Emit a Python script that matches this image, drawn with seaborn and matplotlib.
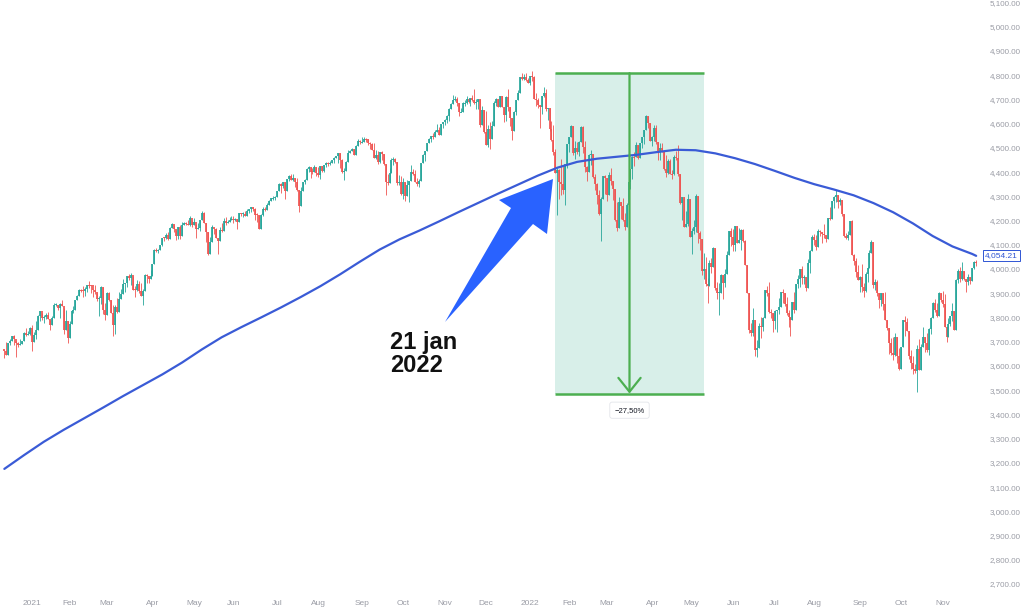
import numpy as np
import pandas as pd
import matplotlib
matplotlib.use("Agg")
import matplotlib.pyplot as plt
from matplotlib.patches import Rectangle, Polygon
import seaborn as sns

sns.set_theme(style="white")
plt.rcParams["font.family"] = ["Liberation Sans", "DejaVu Sans"]

# NYSE holidays inside the window
holidays = ["2020-12-25", "2021-01-01", "2021-01-18", "2021-02-15", "2021-04-02",
            "2021-05-31", "2021-07-05", "2021-09-06", "2021-11-25", "2021-12-24",
            "2022-01-17", "2022-02-21", "2022-04-15", "2022-05-30", "2022-06-20",
            "2022-07-04", "2022-09-05", "2022-11-24"]

prev_close = 3668  # close of 2020-12-10, opens the first candle

closes = [
    3663, 3647, 3695, 3702, 3722, 3709, 3695, 3687, 3690, 3703, 3735, 3727, 3732, 3756,
    3700, 3726, 3748, 3804, 3825, 3799, 3801, 3810, 3795, 3768, 3798, 3852, 3853, 3841, 3855, 3849, 3750, 3787, 3714,
    3774, 3826, 3830, 3872, 3887, 3915, 3911, 3910, 3917, 3934, 3933, 3932, 3914, 3906, 3877, 3881, 3925, 3829, 3811,
    3901, 3870, 3820, 3768, 3842, 3821, 3875, 3898, 3939, 3943, 3969, 3962, 3974, 3915, 3913, 3940, 3910, 3889, 3909, 3974, 3971, 3959, 3973,
    4020, 4077, 4074, 4080, 4097, 4129, 4128, 4142, 4125, 4170, 4185, 4163, 4135, 4173, 4135, 4180, 4188, 4187, 4183, 4211, 4181,
    4192, 4165, 4168, 4202, 4233, 4189, 4152, 4063, 4113, 4174, 4164, 4128, 4116, 4160, 4156, 4198, 4188, 4195, 4201, 4204,
    4202, 4208, 4192, 4230, 4227, 4228, 4220, 4239, 4247, 4255, 4247, 4224, 4222, 4166, 4224, 4246, 4242, 4266, 4281, 4291, 4292, 4298,
    4320, 4352, 4344, 4358, 4320, 4370, 4385, 4369, 4374, 4360, 4327, 4259, 4323, 4359, 4368, 4412, 4422, 4402, 4401, 4419, 4395,
    4387, 4423, 4403, 4430, 4437, 4433, 4436, 4448, 4460, 4468, 4480, 4449, 4400, 4406, 4442, 4480, 4486, 4497, 4470, 4509, 4529, 4523,
    4524, 4537, 4535, 4520, 4514, 4493, 4459, 4469, 4443, 4481, 4474, 4433, 4358, 4354, 4396, 4449, 4455, 4443, 4353, 4360, 4308,
    4357, 4300, 4346, 4363, 4399, 4391, 4361, 4351, 4364, 4438, 4471, 4486, 4520, 4537, 4549, 4545, 4567, 4575, 4551, 4597, 4605,
    4614, 4631, 4660, 4680, 4697, 4702, 4685, 4646, 4649, 4683, 4683, 4701, 4689, 4704, 4698, 4683, 4691, 4701, 4595, 4655, 4567,
    4513, 4577, 4538, 4592, 4686, 4701, 4668, 4712, 4669, 4635, 4710, 4669, 4621, 4568, 4649, 4697, 4726, 4791, 4786, 4793, 4778, 4766,
    4797, 4794, 4701, 4696, 4677, 4670, 4713, 4726, 4659, 4663, 4577, 4533, 4483, 4398, 4410, 4357, 4350, 4327, 4432, 4516,
    4546, 4589, 4477, 4501, 4484, 4522, 4587, 4504, 4419, 4402, 4472, 4475, 4380, 4349, 4305, 4226, 4288, 4385, 4374,
    4306, 4387, 4363, 4329, 4201, 4171, 4278, 4260, 4204, 4173, 4262, 4358, 4412, 4463, 4461, 4512, 4456, 4520, 4543, 4575, 4632, 4602, 4530,
    4546, 4583, 4525, 4481, 4500, 4488, 4413, 4397, 4447, 4392, 4391, 4463, 4460, 4394, 4272, 4297, 4175, 4184, 4288, 4132,
    4155, 4175, 4300, 4147, 4123, 3991, 4001, 3936, 3930, 4024, 4008, 4088, 3923, 3901, 3901, 3974, 3941, 3979, 4058, 4158, 4132,
    4101, 4177, 4109, 4121, 4161, 4116, 4018, 3901, 3750, 3735, 3790, 3667, 3675, 3765, 3760, 3796, 3912, 3901, 3822, 3819, 3785,
    3825, 3831, 3845, 3903, 3899, 3855, 3819, 3802, 3790, 3863, 3831, 3937, 3960, 3999, 3962, 3967, 3921, 4024, 4073, 4130,
    4119, 4091, 4155, 4152, 4145, 4140, 4122, 4210, 4207, 4280, 4297, 4305, 4275, 4284, 4228, 4138, 4128, 4141, 4199, 4058, 4031, 3986, 3955,
    3967, 3924, 3908, 3980, 4006, 4067, 4110, 3932, 3946, 3901, 3873, 3900, 3856, 3790, 3758, 3693, 3655, 3647, 3719, 3640, 3586,
    3678, 3791, 3783, 3745, 3640, 3612, 3589, 3577, 3669, 3583, 3677, 3720, 3695, 3666, 3752, 3797, 3859, 3830, 3807, 3901, 3872,
    3856, 3760, 3720, 3771, 3807, 3828, 3749, 3956, 3993, 3957, 3992, 3959, 3947, 3965, 3950, 4003, 4027, 4026,
]

highs = [
    3666, 3697, 3695, 3711, 3725, 3726, 3702, 3698, 3712, 3703, 3740, 3756, 3744, 3760,
    3770, 3738, 3784, 3811, 3827, 3817, 3810, 3820, 3823, 3788, 3804, 3859, 3861, 3852, 3859, 3870, 3837, 3831, 3784,
    3784, 3831, 3847, 3872, 3894, 3916, 3918, 3931, 3925, 3934, 3951, 3933, 3916, 3932, 3902, 3889, 3928, 3925, 3861,
    3903, 3907, 3874, 3853, 3851, 3882, 3903, 3918, 3960, 3944, 3970, 3981, 3983, 3970, 3930, 3955, 3949, 3942, 3919, 3978, 3981, 3968, 3994,
    4021, 4083, 4087, 4083, 4099, 4129, 4131, 4148, 4151, 4173, 4191, 4180, 4159, 4175, 4180, 4194, 4194, 4193, 4201, 4218, 4199,
    4209, 4187, 4191, 4202, 4238, 4236, 4190, 4152, 4131, 4183, 4171, 4170, 4128, 4172, 4188, 4209, 4213, 4202, 4213, 4218,
    4220, 4212, 4208, 4233, 4232, 4236, 4238, 4249, 4249, 4255, 4257, 4252, 4233, 4222, 4226, 4256, 4256, 4271, 4286, 4293, 4300, 4300,
    4321, 4355, 4356, 4361, 4358, 4372, 4386, 4393, 4394, 4375, 4375, 4327, 4337, 4359, 4370, 4415, 4423, 4422, 4416, 4430, 4419,
    4422, 4423, 4423, 4430, 4441, 4440, 4445, 4449, 4461, 4468, 4480, 4480, 4454, 4418, 4444, 4489, 4493, 4501, 4497, 4513, 4538, 4532,
    4546, 4545, 4541, 4535, 4522, 4521, 4521, 4492, 4485, 4482, 4486, 4474, 4433, 4394, 4416, 4457, 4463, 4457, 4443, 4389, 4382,
    4375, 4357, 4369, 4365, 4429, 4413, 4410, 4375, 4370, 4439, 4475, 4486, 4520, 4540, 4549, 4560, 4572, 4598, 4585, 4597, 4608,
    4620, 4636, 4664, 4683, 4718, 4714, 4708, 4685, 4663, 4688, 4697, 4714, 4701, 4705, 4718, 4743, 4701, 4702, 4701, 4672, 4655,
    4652, 4595, 4608, 4612, 4695, 4705, 4701, 4713, 4712, 4669, 4712, 4743, 4669, 4621, 4651, 4697, 4740, 4791, 4807, 4804, 4808, 4787,
    4797, 4818, 4798, 4725, 4707, 4677, 4714, 4749, 4744, 4666, 4663, 4611, 4595, 4495, 4417, 4411, 4453, 4428, 4432, 4516,
    4546, 4596, 4589, 4529, 4522, 4527, 4590, 4589, 4527, 4427, 4473, 4489, 4475, 4394, 4356, 4325, 4295, 4385, 4388,
    4375, 4401, 4416, 4364, 4329, 4276, 4299, 4278, 4291, 4232, 4271, 4358, 4412, 4465, 4481, 4522, 4512, 4521, 4546, 4575, 4637, 4632, 4604,
    4549, 4593, 4593, 4525, 4521, 4521, 4488, 4471, 4453, 4452, 4410, 4471, 4488, 4513, 4394, 4299, 4297, 4240, 4308, 4288,
    4170, 4201, 4308, 4300, 4158, 4123, 4066, 4050, 3964, 4039, 4047, 4090, 4088, 3946, 3943, 3981, 3974, 3999, 4076, 4158, 4169,
    4166, 4177, 4177, 4168, 4164, 4164, 4119, 4018, 3901, 3778, 3837, 3790, 3707, 3779, 3801, 3802, 3913, 3928, 3945, 3836, 3819,
    3829, 3832, 3879, 3906, 3919, 3899, 3885, 3829, 3802, 3863, 3903, 3940, 3975, 3999, 4012, 3976, 3967, 4040, 4079, 4140,
    4144, 4140, 4167, 4161, 4152, 4186, 4140, 4211, 4257, 4280, 4301, 4325, 4305, 4292, 4284, 4228, 4150, 4156, 4200, 4204, 4062, 4044, 4016,
    3970, 4019, 3942, 3987, 4010, 4077, 4119, 4110, 3960, 3956, 3901, 3902, 3900, 3907, 3790, 3758, 3716, 3718, 3736, 3719, 3672,
    3680, 3791, 3806, 3797, 3745, 3665, 3640, 3609, 3685, 3712, 3689, 3762, 3720, 3737, 3758, 3800, 3862, 3876, 3859, 3905, 3901,
    3911, 3895, 3760, 3796, 3808, 3860, 3828, 3959, 4001, 4009, 4029, 3992, 3959, 3979, 3965, 4004, 4034, 4035,
]

lows = [
    3633, 3645, 3647, 3688, 3702, 3685, 3636, 3676, 3686, 3689, 3703, 3723, 3727, 3726,
    3663, 3700, 3713, 3748, 3784, 3789, 3777, 3792, 3792, 3750, 3768, 3798, 3846, 3831, 3797, 3847, 3733, 3750, 3694,
    3714, 3774, 3817, 3830, 3872, 3887, 3903, 3885, 3890, 3904, 3923, 3901, 3885, 3897, 3868, 3805, 3857, 3814, 3789,
    3811, 3868, 3819, 3723, 3730, 3819, 3821, 3875, 3898, 3905, 3924, 3953, 3935, 3914, 3886, 3910, 3902, 3888, 3853, 3909, 3944, 3944, 3959,
    3973, 4020, 4069, 4068, 4080, 4095, 4115, 4125, 4120, 4125, 4170, 4151, 4119, 4124, 4123, 4135, 4180, 4181, 4181, 4177, 4175,
    4181, 4128, 4165, 4158, 4202, 4188, 4112, 4057, 4063, 4113, 4143, 4128, 4061, 4116, 4151, 4156, 4180, 4188, 4195, 4201,
    4191, 4199, 4167, 4192, 4217, 4214, 4219, 4219, 4233, 4234, 4238, 4203, 4193, 4164, 4166, 4217, 4241, 4242, 4266, 4281, 4286, 4286,
    4298, 4320, 4314, 4335, 4290, 4320, 4365, 4368, 4365, 4338, 4323, 4234, 4259, 4323, 4351, 4368, 4399, 4376, 4392, 4401, 4384,
    4381, 4373, 4400, 4400, 4422, 4425, 4428, 4436, 4436, 4459, 4437, 4418, 4398, 4368, 4406, 4442, 4480, 4486, 4469, 4470, 4509, 4514,
    4521, 4524, 4522, 4513, 4494, 4493, 4457, 4455, 4435, 4436, 4448, 4428, 4306, 4347, 4354, 4396, 4430, 4436, 4347, 4347, 4307,
    4289, 4279, 4300, 4278, 4363, 4386, 4360, 4343, 4340, 4364, 4438, 4447, 4486, 4519, 4524, 4538, 4545, 4567, 4551, 4551, 4583,
    4595, 4604, 4612, 4660, 4680, 4694, 4671, 4630, 4646, 4649, 4672, 4679, 4684, 4672, 4692, 4682, 4659, 4659, 4585, 4595, 4560,
    4510, 4504, 4495, 4538, 4592, 4671, 4667, 4668, 4667, 4608, 4612, 4652, 4591, 4531, 4568, 4637, 4697, 4726, 4780, 4778, 4776, 4766,
    4758, 4774, 4700, 4671, 4663, 4582, 4638, 4711, 4651, 4614, 4568, 4530, 4470, 4396, 4222, 4287, 4304, 4310, 4264, 4415,
    4483, 4544, 4470, 4452, 4474, 4465, 4522, 4477, 4402, 4365, 4402, 4430, 4374, 4327, 4267, 4223, 4114, 4287, 4309,
    4279, 4306, 4345, 4285, 4199, 4157, 4171, 4205, 4200, 4162, 4173, 4251, 4329, 4372, 4424, 4461, 4455, 4456, 4501, 4517, 4575, 4581, 4530,
    4507, 4528, 4514, 4450, 4450, 4484, 4408, 4381, 4393, 4392, 4372, 4388, 4448, 4385, 4267, 4201, 4175, 4172, 4177, 4132,
    4063, 4146, 4152, 4107, 4077, 3975, 3957, 3928, 3859, 3930, 3983, 4008, 3912, 3878, 3810, 3901, 3875, 3926, 3979, 4058, 4094,
    4074, 4074, 4107, 4109, 4080, 4110, 4017, 3900, 3734, 3724, 3723, 3639, 3636, 3675, 3717, 3744, 3796, 3889, 3820, 3799, 3738,
    3752, 3742, 3815, 3845, 3858, 3847, 3812, 3759, 3722, 3790, 3819, 3831, 3923, 3927, 3938, 3936, 3910, 3921, 3985, 4073,
    4097, 4079, 4091, 4135, 4107, 4128, 4112, 4122, 4201, 4207, 4253, 4277, 4253, 4262, 4218, 4130, 4123, 4120, 4141, 4057, 4017, 3965, 3954,
    3904, 3907, 3886, 3906, 3945, 4006, 4067, 3922, 3912, 3887, 3838, 3849, 3831, 3789, 3749, 3648, 3644, 3624, 3640, 3610, 3584,
    3586, 3678, 3722, 3743, 3630, 3589, 3568, 3571, 3491, 3582, 3583, 3677, 3656, 3657, 3647, 3733, 3797, 3823, 3803, 3807, 3863,
    3843, 3759, 3698, 3720, 3764, 3787, 3748, 3749, 3944, 3947, 3953, 3954, 3906, 3933, 3940, 3950, 3999, 4013,
]

# 200-day moving average, read every 10th session (last value = final session)
ma200 = [3175, 3232, 3287, 3336, 3382, 3428, 3475, 3520, 3565, 3614,
         3668, 3718, 3760, 3800, 3841, 3884, 3929, 3978, 4030, 4080,
         4122, 4158, 4196, 4235, 4273, 4311, 4348, 4385, 4418, 4442,
         4455, 4463, 4471, 4482, 4492, 4490, 4477, 4457, 4433, 4405,
         4376, 4350, 4328, 4304, 4272, 4234, 4188, 4136, 4093, 4062, 4054.21]

# measured drawdown box
box_start, box_end = "2022-01-21", "2022-05-10"
box_top, box_bottom = 4808, 3486
box_label = "\u221227,50%"

days = pd.bdate_range("2020-12-11", "2022-11-25")
days = days[~days.isin(pd.to_datetime(holidays))]

df = pd.DataFrame({"date": days, "close": closes, "high": highs, "low": lows})
df["open"] = [prev_close] + closes[:-1]
df["i"] = np.arange(len(df))

ma_pos = list(df["i"][::10]) + [df["i"].iloc[-1]]
ma_df = pd.DataFrame({"i": ma_pos, "ma": ma200})

up_c, dn_c = "#26a69a", "#ef5350"
grey = "#9a9ca5"

fig = plt.figure(figsize=(10.24, 6.09), dpi=100)
ax = fig.add_axes([0, 17 / 609, 988 / 1024, 592 / 609])

# candles: thin wick + thicker body line
colors = np.where(df["close"] >= df["open"], up_c, dn_c)
ax.vlines(df["i"], df["low"], df["high"], colors=colors, lw=0.6, zorder=3)
o = df["open"].to_numpy(dtype=float)
c = df["close"].to_numpy(dtype=float)
tiny = np.abs(c - o) < 4
b_lo = np.where(tiny, (o + c) / 2 - 2, np.minimum(o, c))
b_hi = np.where(tiny, (o + c) / 2 + 2, np.maximum(o, c))
ax.vlines(df["i"], b_lo, b_hi, colors=colors, lw=1.25, zorder=3)

# 200-day MA
sns.lineplot(data=ma_df, x="i", y="ma", ax=ax, color="#3a5bd6", lw=1.6, zorder=4)

# drawdown measurement box
i0 = df.loc[df["date"] == box_start, "i"].iloc[0]
i1 = df.loc[df["date"] == box_end, "i"].iloc[0]
mid = (i0 + i1) / 2
ax.add_patch(Rectangle((i0, box_bottom), i1 - i0, box_top - box_bottom,
                       facecolor="#d8efe9", edgecolor="none", zorder=1))
ax.hlines([box_top, box_bottom], i0, i1, color="#4caf50", lw=1.8, zorder=5)
ax.annotate("", xy=(mid, box_bottom), xytext=(mid, box_top),
            arrowprops=dict(arrowstyle="->,head_length=1.0,head_width=0.8", color="#4caf50",
                            lw=1.6, shrinkA=0, shrinkB=0, mutation_scale=10), zorder=5)
ax.annotate(box_label, xy=(mid, box_bottom), xytext=(0, -12), textcoords="offset points",
            ha="center", va="center", fontsize=5.5, color="#131722",
            bbox=dict(boxstyle="round,pad=0.6,rounding_size=0.3", fc="white", ec="#e3e5ea", lw=0.6),
            zorder=6)

# axes styling
ax.set_xlim(-2.2, 498.0)
ax.set_ylim(2667, 5110)
for s in ax.spines.values():
    s.set_visible(False)
ax.set_xlabel("")
ax.set_ylabel("")

yt = np.arange(2700, 5101, 100)
ax.yaxis.tick_right()
ax.set_yticks(yt)
ax.set_yticklabels([f"{v:,.2f}" for v in yt])
ax.tick_params(axis="y", length=0, pad=1, labelsize=5.8, labelcolor=grey)

firsts = df.groupby([df["date"].dt.year, df["date"].dt.month])["i"].min()
xt, xl = [], []
for (yr, mo), idx in firsts.items():
    if yr == 2020:
        continue
    xt.append(idx)
    xl.append(str(yr) if mo == 1 else pd.Timestamp(year=yr, month=mo, day=1).strftime("%b"))
ax.set_xticks(xt)
ax.set_xticklabels(xl)
ax.tick_params(axis="x", length=0, pad=6, labelsize=6, labelcolor=grey)

# last MA value tag
ax.annotate(f"{ma200[-1]:,.2f}", xy=(0.997, ma200[-1]), xycoords=ax.get_yaxis_transform(),
            ha="left", va="center", fontsize=6, color="#2f55d4", annotation_clip=False,
            bbox=dict(boxstyle="square,pad=0.25", fc="white", ec="#2f55d4", lw=0.7), zorder=7)

# big pointer arrow and caption (figure pixels, y from top)
pts = [(553, 179), (499, 200), (511, 208), (445, 322), (533, 224), (547, 234)]
arrow = Polygon([(x / 1024, 1 - y / 609) for x, y in pts], closed=True,
                transform=fig.transFigure, facecolor="#2962ff", edgecolor="none", zorder=8)
fig.add_artist(arrow)
fig.text(390 / 1024, 1 - 331 / 609, "21 jan\n2022", ha="left", va="top",
         fontsize=17, fontweight="bold", color="#111111", linespacing=1.0)

fig.savefig("out.png", dpi=100)
